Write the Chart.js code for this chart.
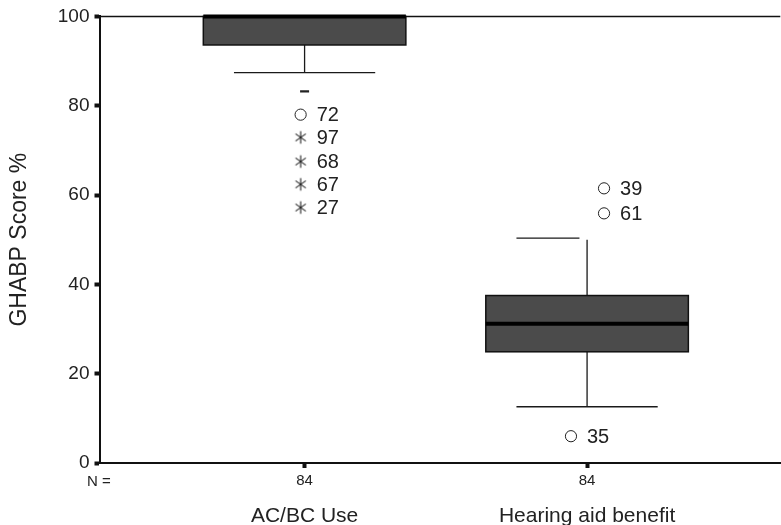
<!DOCTYPE html>
<html>
<head>
<meta charset="utf-8">
<script src="https://cdn.jsdelivr.net/npm/chart.js@4.4.1/dist/chart.umd.min.js"></script>
<style>
  html,body{margin:0;padding:0;background:#fff;overflow:hidden;}
  #wrap{width:781px;height:525px;overflow:hidden;}
  canvas{display:block;}
</style>
</head>
<body>
<div id="wrap"><canvas id="chart" width="787" height="525"></canvas></div>
<script>
// boxplot summary per group
const categories = ["AC/BC Use", "Hearing aid benefit"];
const nCounts = [84, 84];
const whiskerLow = [87.4, 12.6];
const q1 = [93.6, 24.9];
const medians = [100, 31.2];
const q3 = [100, 37.5];
const whiskerHigh = [100, 50];
const yTicks = [0, 20, 40, 60, 80, 100];

// outliers (circle) and extremes (star), with case numbers
const acbcOutVals = [83.2, 78.0, 72.9, 67.5, 62.4, 57.2];
const acbcOutIds = ["", "72", "97", "68", "67", "27"];
const acbcOutKind = ["dash", "circle", "star", "star", "star", "star"];
const hearOutVals = [61.5, 55.9, 6.0];
const hearOutIds = ["39", "61", "35"];
const hearOutKind = ["circle", "circle", "circle"];

const FONT = "'Liberation Sans', Arial, Helvetica, sans-serif";
const INK = "#222";
const BOX_W = 0.717;   // box width in x units
const CAP_W = 0.5;     // whisker cap width in x units

// asterisk glyph for extreme values
function makeStar(){
  let c = document.createElement("canvas");
  c.width = 16; c.height = 16;
  let g = c.getContext("2d");
  g.strokeStyle = "#222";
  g.lineWidth = 1.1;
  let r = 6.3, a = 35 * Math.PI / 180;
  g.beginPath();
  g.moveTo(8, 8 - r); g.lineTo(8, 8 + r);
  g.moveTo(8 - r*Math.cos(a), 8 - r*Math.sin(a)); g.lineTo(8 + r*Math.cos(a), 8 + r*Math.sin(a));
  g.moveTo(8 - r*Math.cos(a), 8 + r*Math.sin(a)); g.lineTo(8 + r*Math.cos(a), 8 - r*Math.sin(a));
  g.stroke();
  return c;
}
const star = makeStar();

// small sideways shift of outlier glyphs, like SPSS does
function shift(cat, v, kind){
  if(kind === "dash") return 0;
  if(cat === 0) return -0.014;
  return v > medians[cat] ? 0.06 : -0.057;
}

function outlierSet(cat, vals, ids, kinds){
  return {
    type: "scatter",
    data: vals.map((v, i) => ({x: cat + 1 + shift(cat, v, kinds[i]), y: v})),
    ids: ids,
    pointStyle: kinds.map(k => k === "star" ? star : (k === "dash" ? "line" : "circle")),
    pointRadius: kinds.map(k => k === "dash" ? 4.5 : 5.6),
    borderWidth: kinds.map(k => k === "dash" ? 2.2 : 1),
    borderColor: "#222",
    backgroundColor: "rgba(0,0,0,0)"
  };
}

// boxes, whiskers, caps, top rule and bottom texts
const boxPlugin = {
  id: "boxes",
  beforeDatasetsDraw(chart){
    let ctx = chart.ctx, x = chart.scales.x, y = chart.scales.y, a = chart.chartArea;
    let unit = x.getPixelForValue(2) - x.getPixelForValue(1);
    ctx.save();

    // top rule
    ctx.strokeStyle = "#111";
    ctx.lineWidth = 1.5;
    ctx.beginPath();
    ctx.moveTo(a.left, y.getPixelForValue(100));
    ctx.lineTo(a.right, y.getPixelForValue(100));
    ctx.stroke();

    categories.forEach((c, i) => {
      let cx = x.getPixelForValue(i + 1);
      let hw = unit * BOX_W / 2;
      let yq1 = y.getPixelForValue(q1[i]), yq3 = y.getPixelForValue(q3[i]);
      let ylo = y.getPixelForValue(whiskerLow[i]), yhi = y.getPixelForValue(whiskerHigh[i]);

      ctx.strokeStyle = "#1a1a1a";
      ctx.lineWidth = 1.3;
      ctx.beginPath();
      ctx.moveTo(cx, yq1); ctx.lineTo(cx, ylo);
      ctx.moveTo(cx - unit*CAP_W/2, ylo); ctx.lineTo(cx + unit*CAP_W/2, ylo);
      if(whiskerHigh[i] > q3[i]){
        ctx.moveTo(cx, yq3); ctx.lineTo(cx, yhi);
        // upper cap is drawn off to the left in the original output
        ctx.moveTo(cx - unit*CAP_W/2, yhi - 1.5); ctx.lineTo(cx - unit*0.027, yhi - 1.5);
      }
      ctx.stroke();

      ctx.fillStyle = "#4b4b4b";
      ctx.fillRect(cx - hw, yq3, hw*2, yq1 - yq3);
      ctx.strokeStyle = "#111";
      ctx.lineWidth = 1.5;
      ctx.strokeRect(cx - hw, yq3, hw*2, yq1 - yq3);

      let ym = y.getPixelForValue(medians[i]);
      ctx.strokeStyle = "#000";
      ctx.lineWidth = 4;
      ctx.beginPath();
      ctx.moveTo(cx - hw, ym); ctx.lineTo(cx + hw, ym);
      ctx.stroke();

      // group name under the N row
      ctx.fillStyle = INK;
      ctx.font = "21px " + FONT;
      ctx.textAlign = "center";
      ctx.textBaseline = "alphabetic";
      ctx.fillText(c, cx, 521.5);
    });

    ctx.font = "15px " + FONT;
    ctx.textAlign = "left";
    ctx.textBaseline = "alphabetic";
    ctx.fillText("N =", 87, 486);
    ctx.restore();
  },
  afterDatasetsDraw(chart){
    let ctx = chart.ctx;
    ctx.save();
    ctx.fillStyle = INK;
    ctx.font = "20px " + FONT;
    ctx.textAlign = "left";
    ctx.textBaseline = "middle";
    chart.data.datasets.forEach((ds, di) => {
      let meta = chart.getDatasetMeta(di);
      meta.data.forEach((p, j) => {
        if(ds.ids[j]) ctx.fillText(ds.ids[j], p.x + 16, p.y + 1);
      });
    });
    ctx.restore();
  }
};

new Chart(document.getElementById("chart"), {
  type: "scatter",
  data: {
    datasets: [
      outlierSet(0, acbcOutVals, acbcOutIds, acbcOutKind),
      outlierSet(1, hearOutVals, hearOutIds, hearOutKind)
    ]
  },
  options: {
    responsive: false,
    animation: false,
    layout: {padding: {top: 15.6, right: 0, bottom: 0, left: 0}},
    plugins: {legend: {display: false}, tooltip: {enabled: false}},
    scales: {
      x: {
        type: "linear",
        min: 0.274,
        max: 2.684,
        afterBuildTicks: s => { s.ticks = categories.map((c, i) => ({value: i + 1})); },
        afterFit: s => { s.height = 62; },
        ticks: {
          callback: (v, i) => String(nCounts[i]),
          font: {family: FONT, size: 15},
          color: INK,
          padding: 4,
          autoSkip: false,
          maxRotation: 0
        },
        grid: {drawOnChartArea: false, tickLength: 5, tickWidth: 4, tickColor: "#111"},
        border: {color: "#111", width: 2}
      },
      y: {
        min: 0,
        max: 100,
        afterBuildTicks: s => { s.ticks = yTicks.map(v => ({value: v})); },
        afterFit: s => { s.width = 99.5; },
        ticks: {font: {family: FONT, size: 19}, color: INK, padding: 5},
        grid: {drawOnChartArea: false, tickLength: 5, tickWidth: 4, tickColor: "#111"},
        border: {color: "#111", width: 2},
        title: {
          display: true,
          text: "GHABP Score %",
          font: {family: FONT, size: 23},
          color: INK,
          padding: {top: 6, bottom: 0}
        }
      }
    }
  },
  plugins: [boxPlugin]
});
</script>
</body>
</html>
